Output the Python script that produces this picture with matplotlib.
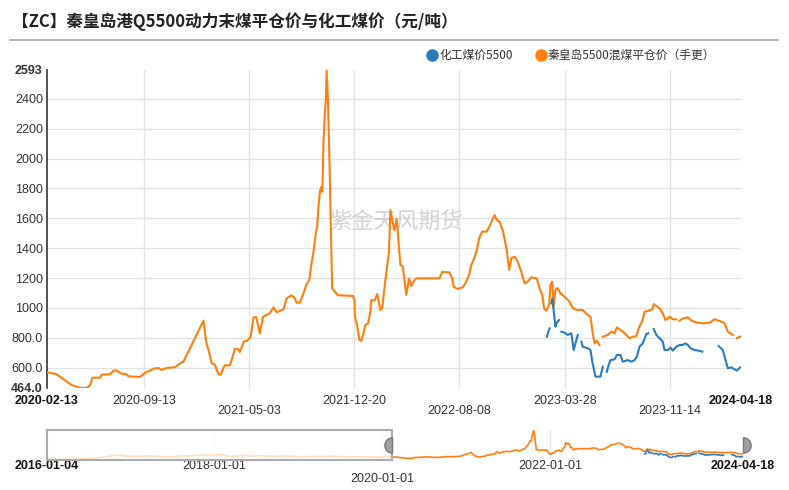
import numpy as np
import pandas as pd
import matplotlib
matplotlib.use("Agg")
import matplotlib.pyplot as plt
from matplotlib.lines import Line2D
from matplotlib.patches import Rectangle
from matplotlib.path import Path

plt.rcParams['font.family'] = ['Liberation Sans', 'Noto Sans CJK SC', 'DejaVu Sans']

# 秦皇岛5500混煤平仓价（手更）
orange_dates = [
    "2016-01-04", "2016-03-15", "2016-05-15", "2016-07-15", "2016-09-01", "2016-10-10",
    "2016-11-10", "2016-12-10", "2017-01-15", "2017-03-15", "2017-05-01", "2017-06-15",
    "2017-08-01", "2017-09-15", "2017-11-01", "2017-12-15", "2018-01-20", "2018-03-15",
    "2018-05-15", "2018-06-15", "2018-07-20", "2018-09-15", "2018-11-15", "2019-01-15",
    "2019-03-15", "2019-05-15", "2019-07-15", "2019-09-15", "2019-11-15", "2020-01-10",
    "2020-02-13", "2020-03-05", "2020-04-07", "2020-04-26", "2020-05-11", "2020-05-18",
    "2020-05-23", "2020-06-09", "2020-06-12", "2020-07-01", "2020-07-08", "2020-07-14",
    "2020-07-26", "2020-08-06", "2020-08-10", "2020-09-05", "2020-09-08", "2020-09-18",
    "2020-09-26", "2020-10-04", "2020-10-15", "2020-10-22", "2020-11-02", "2020-11-20",
    "2020-12-01", "2020-12-09", "2021-01-22", "2021-01-28", "2021-02-05", "2021-02-09",
    "2021-02-16", "2021-02-24", "2021-03-01", "2021-03-07", "2021-03-10", "2021-03-21",
    "2021-03-25", "2021-04-01", "2021-04-07", "2021-04-12", "2021-04-21", "2021-04-28",
    "2021-05-06", "2021-05-12", "2021-05-18", "2021-05-26", "2021-06-02", "2021-06-17",
    "2021-06-25", "2021-07-02", "2021-07-17", "2021-07-24", "2021-08-04", "2021-08-11",
    "2021-08-15", "2021-08-22", "2021-08-30", "2021-09-05", "2021-09-12", "2021-09-16",
    "2021-09-21", "2021-09-26", "2021-09-29", "2021-10-02", "2021-10-05", "2021-10-08",
    "2021-10-10", "2021-10-11", "2021-10-13", "2021-10-16", "2021-10-18", "2021-10-20",
    "2021-10-23", "2021-10-26", "2021-10-30", "2021-11-01", "2021-11-06", "2021-11-14",
    "2021-12-17", "2021-12-20", "2021-12-21", "2021-12-25", "2021-12-31", "2022-01-04",
    "2022-01-08", "2022-01-13", "2022-01-19", "2022-01-24", "2022-01-26", "2022-02-02",
    "2022-02-08", "2022-02-15", "2022-02-19", "2022-02-26", "2022-03-06", "2022-03-09",
    "2022-03-14", "2022-03-18", "2022-03-23", "2022-03-31", "2022-04-05", "2022-04-09",
    "2022-04-13", "2022-04-19", "2022-04-24", "2022-04-29", "2022-05-05", "2022-06-25",
    "2022-07-01", "2022-07-17", "2022-07-23", "2022-07-26", "2022-08-04", "2022-08-15",
    "2022-08-23", "2022-08-29", "2022-09-03", "2022-09-10", "2022-09-14", "2022-09-21",
    "2022-09-27", "2022-10-07", "2022-10-15", "2022-10-24", "2022-10-29", "2022-11-04",
    "2022-11-11", "2022-11-20", "2022-11-25", "2022-11-30", "2022-12-07", "2022-12-14",
    "2022-12-22", "2022-12-29", "2023-01-05", "2023-01-13", "2023-01-25", "2023-01-31",
    "2023-02-06", "2023-02-10", "2023-02-15", "2023-02-21", "2023-02-24", "2023-02-28",
    "2023-03-03", "2023-03-07", "2023-03-09", "2023-03-10", "2023-03-12", "2023-03-18",
    "2023-03-27", "2023-04-07", "2023-04-14", "2023-04-25", "2023-05-06", "2023-05-17",
    "2023-05-23", "2023-05-28", "2023-06-01", "2023-06-06", "2023-06-12", "2023-06-15",
    "2023-06-19", "2023-06-30", "2023-07-08", "2023-07-15", "2023-07-20", "2023-07-30",
    "2023-08-08", "2023-08-17", "2023-08-24", "2023-09-01", "2023-09-06", "2023-09-14",
    "2023-09-19", "2023-09-28", "2023-10-06", "2023-10-09", "2023-10-15", "2023-10-22",
    "2023-10-29", "2023-11-04", "2023-11-13", "2023-11-20", "2023-11-28", "2023-12-01",
    "2023-12-05", "2023-12-12", "2023-12-23", "2023-12-31", "2024-01-11", "2024-01-25",
    "2024-02-09", "2024-02-20", "2024-03-06", "2024-03-13", "2024-03-20", "2024-03-31",
    "2024-04-04", "2024-04-09", "2024-04-18",
]
orange_vals = [
    370, 370, 390, 450, 560, 650,
    720, 640, 600, 650, 620, 580,
    630, 660, 700, 720, 760, 600,
    690, 620, 660, 620, 640, 590,
    620, 620, 600, 580, 570, 560,
    570, 556, 484, 465, 465, 484,
    533, 533, 553, 556, 580, 582,
    560, 556, 542, 538, 546, 571,
    578, 593, 598, 585, 598, 603,
    627, 640, 915, 774, 685, 630,
    620, 556, 553, 600, 616, 616,
    651, 725, 727, 705, 776, 780,
    807, 937, 939, 830, 940, 964,
    1004, 971, 991, 1064, 1085, 1064,
    1035, 1035, 1098, 1154, 1191, 1287,
    1376, 1499, 1543, 1677, 1778, 1811,
    1778, 1834, 2124, 2303, 2392, 2593,
    2370, 1992, 1413, 1131, 1112, 1085,
    1080, 1053, 941, 897, 785, 779,
    819, 886, 897, 975, 1053, 1049,
    1093, 986, 997, 1187, 1376, 1656,
    1577, 1522, 1595, 1287, 1281, 1187,
    1087, 1198, 1147, 1176, 1198, 1198,
    1242, 1238, 1198, 1142, 1127, 1138,
    1176, 1220, 1287, 1338, 1376, 1473,
    1511, 1511, 1560, 1622, 1588, 1577,
    1522, 1388, 1254, 1332, 1343, 1310,
    1242, 1165, 1176, 1205, 1198, 1131,
    1087, 997, 981, 1020, 1154, 1176,
    1008, 1120, 1128, None, 1131, 1098,
    1075, 1042, 997, 986, 986, 953,
    941, 830, 763, 781, 752, None,
    807, 819, 841, 830, 870, 848,
    826, 797, 807, 812, 863, 914,
    975, 981, 990, 1026, 1013, 997,
    964, 919, 941, 924, 924, None,
    914, 930, 937, 914, 903, 897,
    901, 924, 908, 897, 841, 819,
    None, 797, 810,
]

# 化工煤价5500
blue_dates = [
    "2023-02-16", "2023-02-22", "2023-02-24", "2023-02-26", "2023-02-28", "2023-03-03",
    "2023-03-07", "2023-03-10", "2023-03-15", "2023-03-17", "2023-03-20", "2023-03-27",
    "2023-04-03", "2023-04-11", "2023-04-16", "2023-04-20", "2023-04-25", "2023-04-29",
    "2023-05-03", "2023-05-06", "2023-05-17", "2023-05-23", "2023-05-27", "2023-06-03",
    "2023-06-14", "2023-06-19", "2023-06-23", "2023-06-28", "2023-07-02", "2023-07-06",
    "2023-07-15", "2023-07-20", "2023-07-28", "2023-08-02", "2023-08-13", "2023-08-21",
    "2023-08-28", "2023-09-02", "2023-09-08", "2023-09-15", "2023-09-23", "2023-09-27",
    "2023-10-03", "2023-10-09", "2023-10-15", "2023-10-20", "2023-10-29", "2023-11-02",
    "2023-11-09", "2023-11-15", "2023-11-20", "2023-11-28", "2023-12-05", "2023-12-11",
    "2023-12-18", "2023-12-23", "2023-12-29", "2024-01-07", "2024-01-16", "2024-01-24",
    "2024-02-10", "2024-02-29", "2024-03-09", "2024-03-15", "2024-03-20", "2024-03-28",
    "2024-04-04", "2024-04-09", "2024-04-16",
]
blue_vals = [
    807, 863, None, 1031, 1060, 986,
    874, 901, 919, None, 841, 834,
    819, 830, 718, 763, 819, None,
    774, 741, 730, 718, 640, 540,
    540, 607, None, 573, 618, 651,
    656, 685, 685, 640, 651, 640,
    651, 674, 741, 763, 826, 830,
    None, 859, 819, 803, 774, 718,
    718, 734, 714, 741, 752, 752,
    763, 752, 730, 718, 714, 707,
    None, 745, 718, 651, 596, 602,
    589, 580, 602,
]

y_ticks = [464, 600, 800, 1000, 1200, 1400, 1600, 1800, 2000, 2200, 2400, 2593]
y_labels = ["464.0", "600.0", "800.0", "1000", "1200", "1400", "1600", "1800",
            "2000", "2200", "2400", "2593"]
x_ticks = ["2020-02-13", "2020-09-13", "2021-05-03", "2021-12-20", "2022-08-08",
           "2023-03-28", "2023-11-14", "2024-04-18"]
x_lower_row = ["2021-05-03", "2022-08-08", "2023-11-14"]
nav_ticks = ["2016-01-04", "2018-01-01", "2020-01-01", "2022-01-01", "2024-04-18"]

title = "【ZC】秦皇岛港Q5500动力末煤平仓价与化工煤价（元/吨）"
name_blue = "化工煤价5500"
name_orange = "秦皇岛5500混煤平仓价（手更）"

c_blue = "#2b7bba"
c_orange = "#ff7f0e"
cjk = ['Noto Sans CJK SC', 'DejaVu Sans']

od = pd.to_datetime(orange_dates)
ov = np.array([np.nan if v is None else v for v in orange_vals], dtype=float)
bd = pd.to_datetime(blue_dates)
bv = np.array([np.nan if v is None else v for v in blue_vals], dtype=float)

W, H = 789, 490
fig = plt.figure(figsize=(W / 100, H / 100), dpi=100)

def box(l, t, r, b):
    return [l / W, 1 - b / H, (r - l) / W, (b - t) / H]

# title and separator
fig.text(12 / W, 1 - 22 / H, title, family=cjk, fontsize=12, fontweight='bold',
         va='center', ha='left', color='#222222')
fig.add_artist(Line2D([10 / W, 778 / W], [1 - 40 / H, 1 - 40 / H], color='#aaaaaa', lw=1.2))

# legend
fig.add_artist(Line2D([432 / W], [1 - 55 / H], marker='o', ms=8, color=c_blue, lw=0))
fig.text(439 / W, 1 - 55 / H, name_blue, family=cjk, fontsize=8.5, va='center', color='#333333')
fig.add_artist(Line2D([541 / W], [1 - 55 / H], marker='o', ms=8, color=c_orange, lw=0))
fig.text(548 / W, 1 - 55 / H, name_orange, family=cjk, fontsize=8.5, va='center', color='#333333')

# main chart
ax = fig.add_axes(box(47, 70, 741, 388))
x0, x1 = pd.Timestamp(x_ticks[0]), pd.Timestamp(x_ticks[-1])
for y in y_ticks[1:-1]:
    ax.axhline(y, color='#e3e3e3', lw=1, zorder=0)
for d in x_ticks[1:-1]:
    ax.axvline(pd.Timestamp(d), color='#e3e3e3', lw=1, zorder=0)
ax.plot(od, ov, color=c_orange, lw=1.5, zorder=3)
ax.plot(bd, bv, color=c_blue, lw=1.5, zorder=3)
ax.set_xlim(x0, x1)
ax.set_ylim(464, 2593)
ax.set_yticks(y_ticks)
ax.set_yticklabels(y_labels)
for i, lab in enumerate(ax.get_yticklabels()):
    if i in (0, len(y_ticks) - 1):
        lab.set_fontweight('bold')
        lab.set_color('#111111')
ax.tick_params(axis='y', length=0, pad=3, labelsize=9, labelcolor='#333333')
ax.set_xticks([])
for s in ('top', 'right', 'bottom'):
    ax.spines[s].set_visible(False)
ax.spines['left'].set_color('#333333')
ax.spines['left'].set_linewidth(1.2)

for i, d in enumerate(x_ticks):
    row = -0.073 if d in x_lower_row else -0.041
    bold = i in (0, len(x_ticks) - 1)
    ax.text(pd.Timestamp(d), row, d, transform=ax.get_xaxis_transform(),
            ha='center', va='center', fontsize=9,
            fontweight='bold' if bold else 'normal',
            color='#111111' if bold else '#333333')

ax.text(0.503, 0.52, "紫金天风期货", transform=ax.transAxes, family=cjk,
        fontsize=16, color='#c8c8c8', ha='center', va='center', alpha=0.8, zorder=2)

# navigator
nav = fig.add_axes(box(47, 430, 743, 460))
n0, n1 = pd.Timestamp(nav_ticks[0]), pd.Timestamp(nav_ticks[-1])
for d in nav_ticks[1:-1]:
    nav.axvline(pd.Timestamp(d), color='#e8e8e8', lw=1, zorder=0)
nav.plot(od, ov, color=c_orange, lw=1.2, zorder=2)
nav.plot(bd, bv, color=c_blue, lw=1.2, zorder=2)
nav.set_xlim(n0, n1)
nav.set_ylim(340, 2610)
nav.set_xticks([])
nav.set_yticks([])
for s in nav.spines.values():
    s.set_visible(False)
dn0 = matplotlib.dates.date2num(n0)
dx0 = matplotlib.dates.date2num(x0)
nav.add_patch(Rectangle((dn0, 0), dx0 - dn0, 1, transform=nav.get_xaxis_transform(),
                        facecolor='white', alpha=0.75, edgecolor='none', zorder=4))
nav.add_patch(Rectangle((dn0, 0), dx0 - dn0, 1, transform=nav.get_xaxis_transform(),
                        facecolor='none', edgecolor='#aaaaaa', lw=1.5, zorder=5, clip_on=False))
left_half = Path.wedge(90, 270)
right_half = Path.wedge(-90, 90)
nav.plot([x0], [0.5], transform=nav.get_xaxis_transform(), marker=left_half, ms=11,
         color='#a0a0a0', mec='#777777', lw=0, zorder=6, clip_on=False)
nav.plot([x1], [0.5], transform=nav.get_xaxis_transform(), marker=right_half, ms=11,
         color='#a0a0a0', mec='#777777', lw=0, zorder=6, clip_on=False)

for i, d in enumerate(nav_ticks):
    row = -0.63 if d == "2020-01-01" else -0.2
    bold = i in (0, len(nav_ticks) - 1)
    nav.text(pd.Timestamp(d), row, d, transform=nav.get_xaxis_transform(),
             ha='center', va='center', fontsize=9,
             fontweight='bold' if bold else 'normal',
             color='#111111' if bold else '#333333')

fig.savefig("out.png", dpi=100)
